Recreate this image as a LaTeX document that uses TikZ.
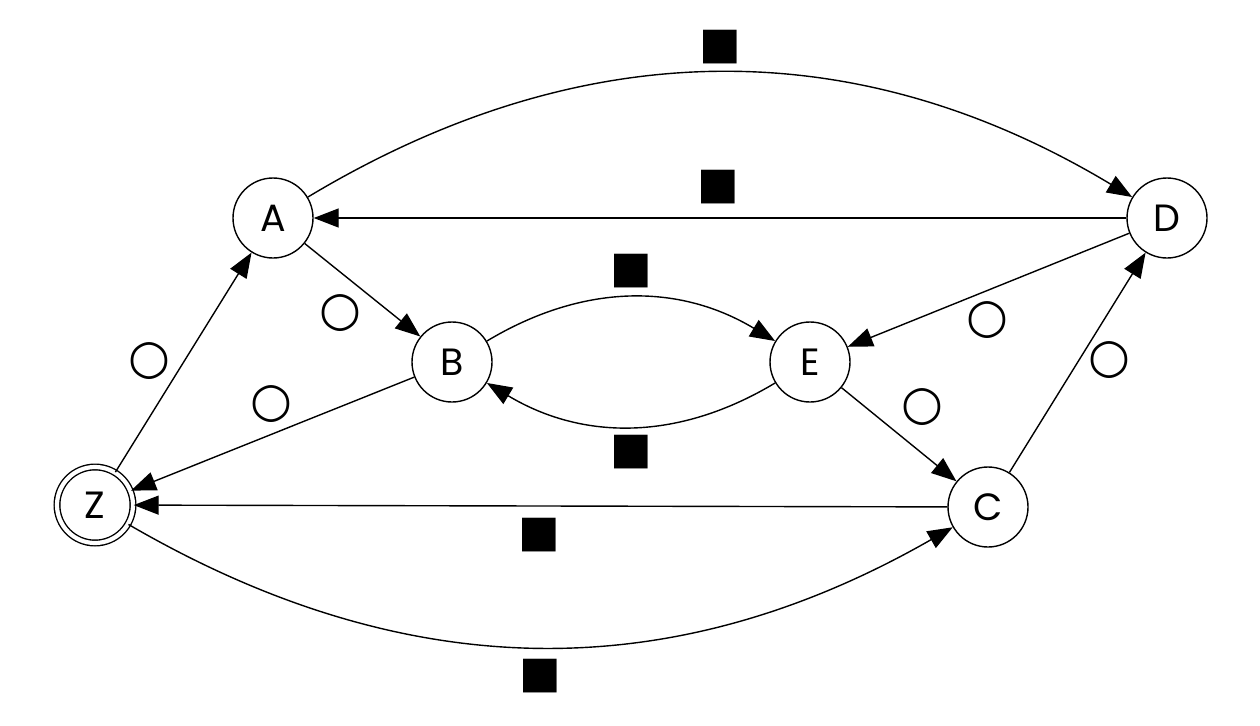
\documentclass[tikz,border=0pt]{standalone}
\usepackage{fontspec}
\setmainfont{Poppins}
\newfontfamily\symfont{DejaVu Sans}
\usetikzlibrary{arrows.meta}
\begin{document}
\begin{tikzpicture}[x=1pt,y=-1pt,
  state/.style={circle,draw,line width=1.4pt,minimum size=80pt,inner sep=0pt,
    font=\fontsize{38}{38}\selectfont},
  final/.style={state,double,double distance=4.2pt,minimum size=76pt},
  edge/.style={line width=1.4pt,-{Triangle[length=25pt,width=19pt]}},
  sq/.style={font=\symfont\fontsize{44}{44}\selectfont,inner sep=0pt},
  ci/.style={font=\symfont\fontsize{48}{48}\selectfont,inner sep=0pt}
]
\useasboundingbox (0,0) rectangle (1260,725);
\node[state] (A) at (273,218) {A};
\node[state] (D) at (1167,218) {D};
\node[state] (B) at (452,362) {B};
\node[state] (E) at (810,362) {E};
\node[final] (Z) at (95,505) {Z};
\node[state] (C) at (988,507) {C};

\draw[edge] (A) to[bend left=31] node[sq,shift={(0,-26)}] {■} (D);
\draw[edge] (D) -- node[sq,shift={(-2,-31)}] {■} (A);
\draw[edge] (A) -- node[ci,shift={(-22,23)}] {○} (B);
\draw[edge] (B) to[bend left=31] node[sq,shift={(0,-27)}] {■} (E);
\draw[edge] (E) to[bend left=31] node[sq,shift={(0,26)}] {■} (B);
\draw[edge] (D) -- node[ci,shift={(-1,30)}] {○} (E);
\draw[edge] (E) -- node[ci,shift={(23,-27)}] {○} (C);
\draw[edge] (C) -- node[ci,shift={(32,-2)}] {○} (D);
\draw[edge] (Z) -- node[ci,shift={(-34,-1)}] {○} (A);
\draw[edge] (B) -- node[ci,shift={(-1,-30)}] {○} (Z);
\draw[edge] (C) -- node[sq,shift={(-1,29)}] {■} (Z);
\draw[edge] (Z) to[bend right=30] node[sq,shift={(0,29)}] {■} (C);
\end{tikzpicture}
\end{document}
